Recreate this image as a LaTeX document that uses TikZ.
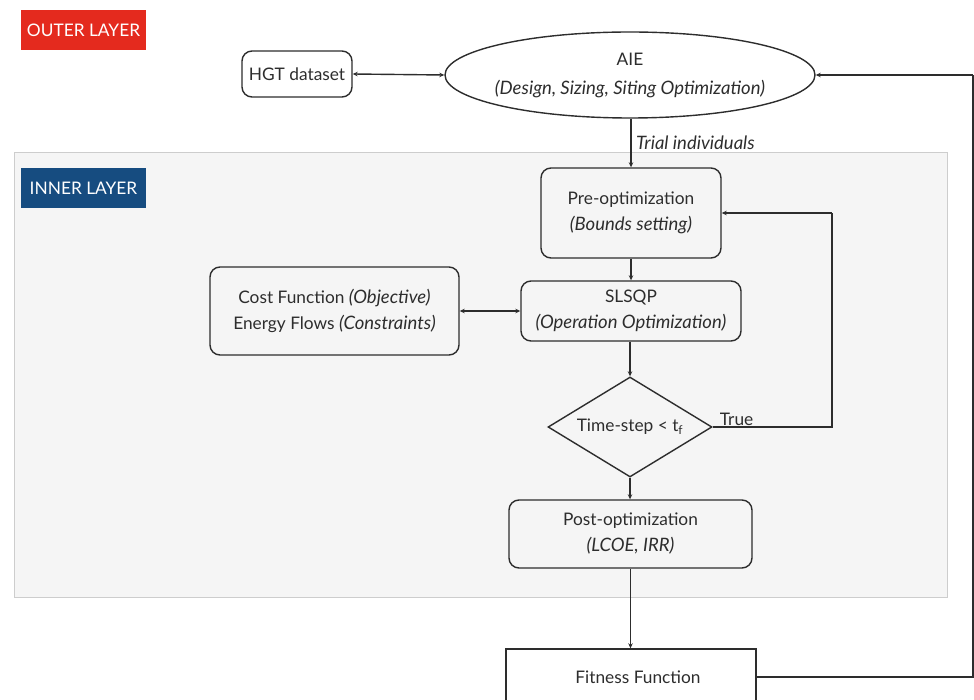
\documentclass[tikz,border=0pt]{standalone}
\usepackage{fontspec}
\setmainfont{Lato}
\usetikzlibrary{shapes.geometric,arrows.meta}
\definecolor{outerred}{RGB}{228,42,30}
\definecolor{innerblue}{RGB}{22,76,128}
\definecolor{ink}{RGB}{45,45,45}
\definecolor{panel}{RGB}{245,245,245}
\definecolor{panelline}{RGB}{205,205,205}
\newcommand{\itx}[1]{{\fontsize{18.5}{26}\selectfont\itshape #1}}
\tikzset{
  txt/.style={font=\fontsize{17.3}{26}\selectfont, text=ink, align=center},
  rbox/.style={txt, draw=ink, line width=1.4pt, rounded corners=10pt, inner sep=0pt},
  tag/.style={font=\fontsize{17.3}{20}\selectfont, text=white, minimum width=125pt, minimum height=40pt, inner sep=0pt},
  conn/.style={draw=ink, line width=1.4pt},
  arr/.style={conn, -{Stealth[length=5pt,width=4.5pt]}},
  darr/.style={conn, {Stealth[length=5pt,width=4.5pt]}-{Stealth[length=5pt,width=4.5pt]}},
}
\begin{document}
\begin{tikzpicture}[x=1pt,y=-1pt]
\useasboundingbox (0,0) rectangle (974,700);
\clip (0,0) rectangle (974,700);
% inner panel
\node[draw=panelline, fill=panel, line width=1pt, minimum width=933pt, minimum height=444pt, inner sep=0pt] (panel) at (480.5,375) {};
% tags
\node[tag, fill=outerred] (outer) at (83.5,30) {OUTER LAYER};
\node[tag, fill=innerblue] (inner) at (83.5,188) {INNER LAYER};
% nodes
\node[rbox, fill=white, minimum width=110pt, minimum height=46pt] (hgt) at (297,74) {HGT dataset};
\node[draw=ink, line width=1.4pt, fill=white, ellipse, minimum width=370pt, minimum height=86pt, inner sep=0pt] (aie) at (630,75) {};
\node[txt, font=\fontsize{17.3}{29}\selectfont] (aiet) at (aie) {AIE\\\itx{(Design, Sizing, Siting Optimization)}};
\node[rbox, minimum width=180pt, minimum height=90pt] (pre) at (631,213) {Pre-optimization\\\itx{(Bounds setting)}};
\node[rbox, minimum width=220pt, minimum height=60pt] (slsqp) at (631,311) {SLSQP\\\itx{(Operation Optimization)}};
\node[rbox, minimum width=249pt, minimum height=88pt] (cost) at (334.5,311) {Cost Function \itx{(Objective)}\\Energy Flows \itx{(Constraints)}};
\node[draw=ink, line width=1.4pt, diamond, minimum width=164pt, minimum height=100pt, inner sep=0pt] (dia) at (630,427) {};
\node[txt] (diat) at (dia) {Time-step < t\textsubscript{f}};
\node[rbox, minimum width=243pt, minimum height=68pt] (post) at (630.5,534) {Post-optimization\\\itx{(LCOE, IRR)}};
\node[txt, draw=ink, line width=1.4pt, fill=white, minimum width=250pt, minimum height=56pt, inner sep=0pt] (fit) at (631,677) {\hspace*{14pt}Fitness Function};
% coordinates
\coordinate (loopr) at (832,427);
\coordinate (loopt) at (832,213);
\coordinate (fitr) at (973,677);
\coordinate (fitt) at (973,75);
% connectors
\draw[darr] (hgt.east) -- (aie.west);
\draw[arr] (aie.south -| pre.north) -- node[txt, right, xshift=1pt] (trial) {\itx{Trial individuals}} (pre.north);
\draw[arr] (pre.south) -- (pre.south |- slsqp.north);
\draw[darr] (cost.east) -- (slsqp.west);
\draw[arr] (slsqp.south -| dia.north) -- (dia.north);
\draw[conn] (dia.east) -- node[txt, above, pos=0.2, yshift=-3pt] (true) {True} (loopr) -- (loopt);
\draw[arr] (loopt) -- (pre.east);
\draw[arr] (dia.south) -- (dia.south |- post.north);
\draw[arr] (post.south) -- (post.south |- fit.north);
\draw[conn] (fit.east) -- (fitr) -- (fitt);
\draw[arr] (fitt) -- (aie.east);
\end{tikzpicture}
\end{document}
